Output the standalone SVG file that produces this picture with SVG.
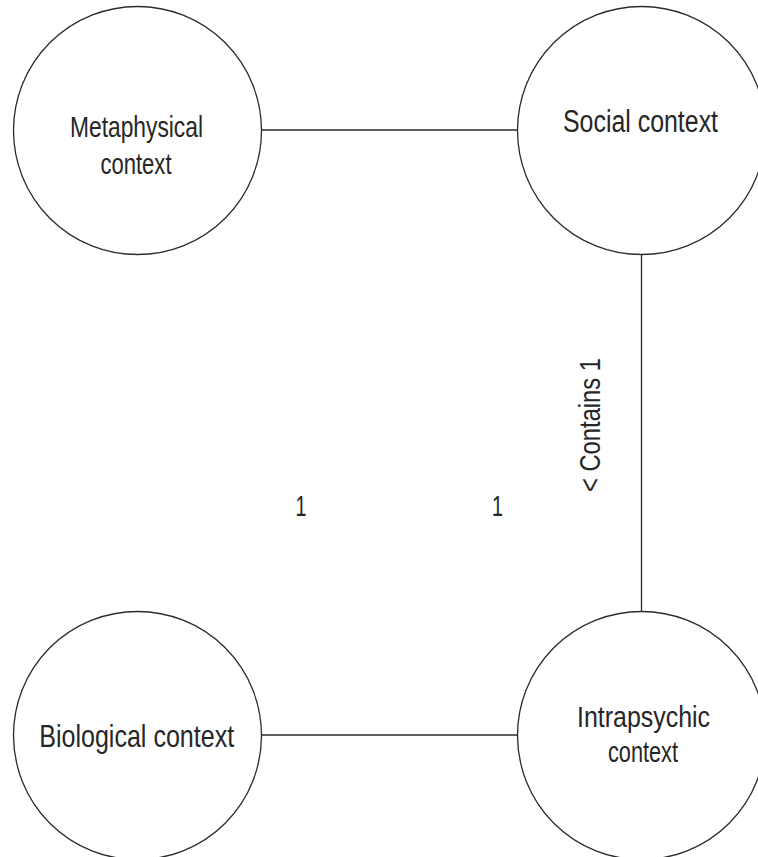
<svg xmlns="http://www.w3.org/2000/svg" width="758" height="857" viewBox="0 0 758 857">
  <style>
    .ctx { fill: #ffffff; stroke: #2b2b2b; stroke-width: 1.3; }
    .link { stroke: #2b2b2b; stroke-width: 1.3; fill: none; }
    .lbl { font-family: "Liberation Sans Narrow", "Liberation Sans", Arial, sans-serif; fill: #262626; text-anchor: middle; }
  </style>
  <rect width="758" height="857" fill="#ffffff"/>

  <!-- connectors -->
  <g id="connectors">
    <line class="link" x1="261.5" y1="130" x2="517.5" y2="130"/>
    <line class="link" x1="641.5" y1="254.5" x2="641.5" y2="611.5"/>
    <line class="link" x1="261.5" y1="735" x2="517.5" y2="735"/>
    <text class="lbl" font-size="30" transform="translate(600,425) rotate(-90)" textLength="134" lengthAdjust="spacingAndGlyphs">&lt; Contains 1</text>
    <text class="lbl" font-size="30" x="301" y="516" textLength="11" lengthAdjust="spacingAndGlyphs">1</text>
    <text class="lbl" font-size="30" x="497.5" y="516" textLength="11" lengthAdjust="spacingAndGlyphs">1</text>
  </g>

  <!-- nodes -->
  <g id="metaphysical">
    <circle class="ctx" cx="137.5" cy="130.5" r="124"/>
    <text class="lbl" font-size="29" x="136.5" y="137" textLength="133" lengthAdjust="spacingAndGlyphs">Metaphysical</text>
    <text class="lbl" font-size="29" x="136" y="174" textLength="71" lengthAdjust="spacingAndGlyphs">context</text>
  </g>

  <g id="social">
    <circle class="ctx" cx="641.5" cy="130.5" r="124"/>
    <text class="lbl" font-size="31" x="640.5" y="132" textLength="155" lengthAdjust="spacingAndGlyphs">Social context</text>
  </g>

  <g id="biological">
    <circle class="ctx" cx="137.5" cy="735.5" r="124"/>
    <text class="lbl" font-size="32" x="136.7" y="747" textLength="195" lengthAdjust="spacingAndGlyphs">Biological context</text>
  </g>

  <g id="intrapsychic">
    <circle class="ctx" cx="641.5" cy="735.5" r="124"/>
    <text class="lbl" font-size="29" x="643.5" y="727" textLength="133" lengthAdjust="spacingAndGlyphs">Intrapsychic</text>
    <text class="lbl" font-size="29" x="643" y="762" textLength="70" lengthAdjust="spacingAndGlyphs">context</text>
  </g>
</svg>
